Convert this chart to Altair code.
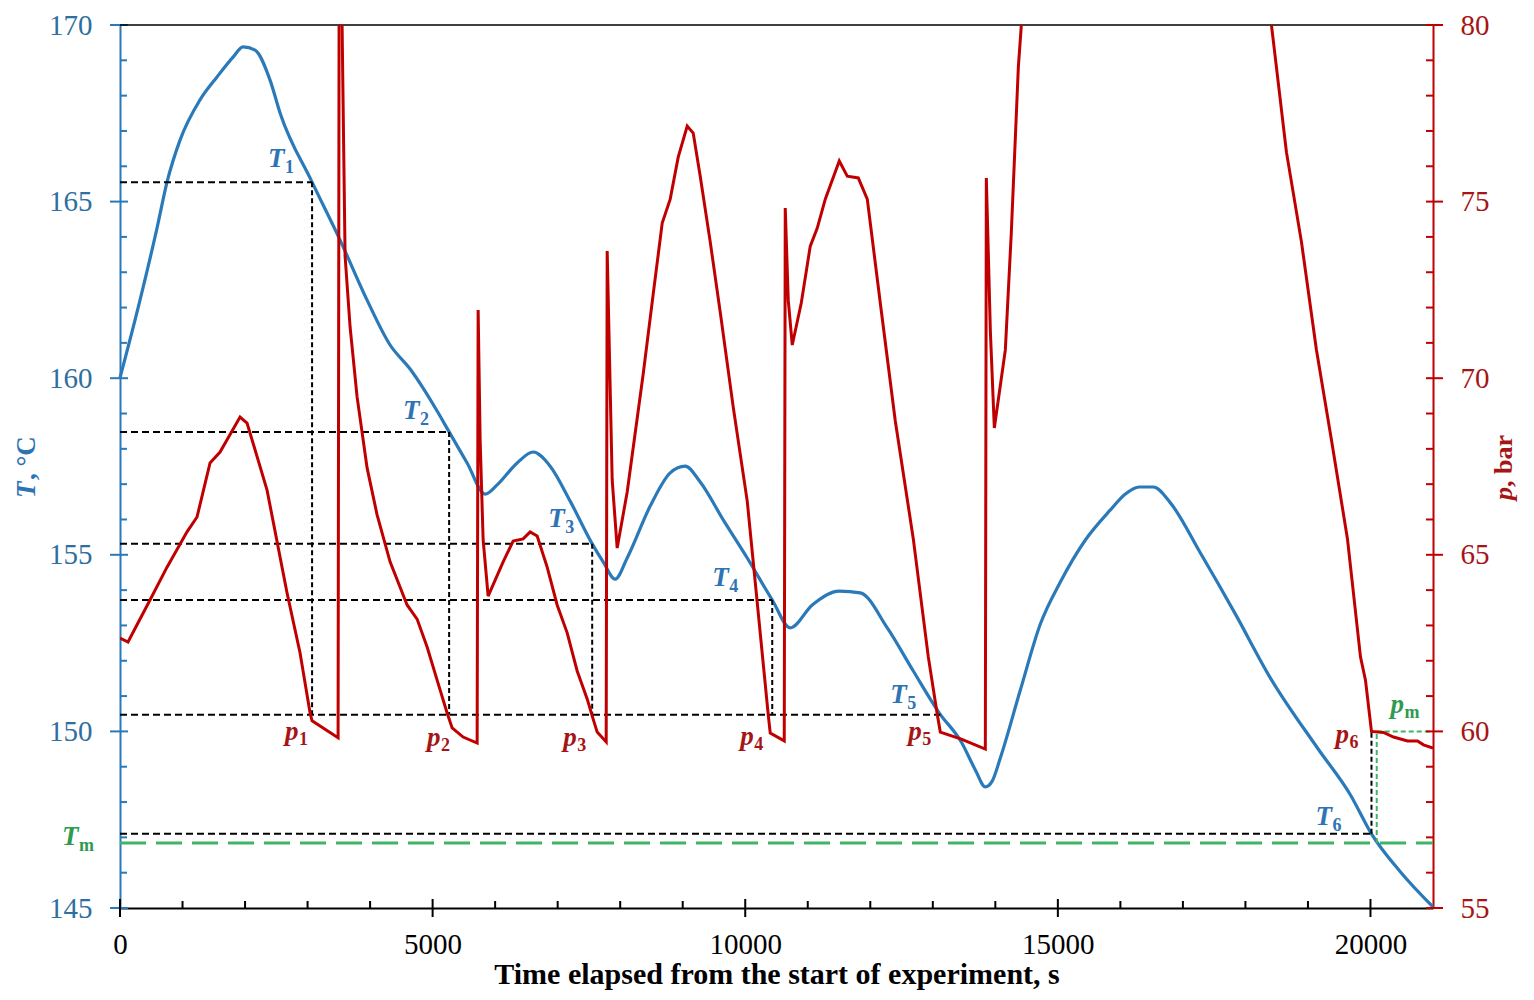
import altair as alt
import pandas as pd

# ---------------- data ----------------
# Temperature T, degC  (left axis)
temp_t = [0, 320, 592, 752, 960, 1280, 1552, 1808, 1968, 2160, 2400, 2560, 3072, 3520, 3952,
          4320, 4640, 4848, 5072, 5264, 5552, 5840, 6032, 6352, 6608, 6880, 7200, 7552, 7728,
          7920, 8112, 8480, 8800, 9040, 9280, 9648, 10032, 10432, 10720, 11072, 11504, 11840,
          12272, 12688, 13104, 13456, 13680, 13840, 13952, 14080, 14400, 14720, 15040, 15440,
          15840, 16080, 16300, 16528, 16800, 17280, 17840, 18400, 19152, 19680, 20016, 20480,
          21000]
temp_T = [160.01, 162.21, 164.25, 165.55, 166.74, 167.88, 168.53, 169.09, 169.38, 169.29,
          168.44, 167.51, 165.55, 163.91, 162.21, 160.94, 160.26, 159.72, 159.07, 158.48,
          157.60, 156.72, 156.98, 157.60, 157.91, 157.51, 156.52, 155.31, 154.80, 154.31,
          154.91, 156.38, 157.32, 157.51, 157.06, 155.99, 154.91, 153.72, 152.93, 153.58,
          153.97, 153.92, 152.93, 151.71, 150.52, 149.70, 148.91, 148.43, 148.60, 149.25,
          151.17, 153.04, 154.23, 155.42, 156.27, 156.72, 156.92, 156.92, 156.47, 155.05,
          153.32, 151.51, 149.53, 148.20, 147.10, 146.02, 145.03]

# Pressure p, bar (right axis); segments leave / re-enter the top of the plot
press_t = [0, 128, 480, 752, 1072, 1232, 1440, 1600, 1920, 2032, 2352, 2672, 2880, 3040, 3072,
           3488, 3504,
           3552, 3600, 3680, 3792, 3952, 4112, 4320, 4592, 4752, 4912, 5072, 5232, 5312, 5488,
           5712, 5728, 5760, 5808, 5888, 6128, 6288, 6448, 6560, 6672, 6832, 6992, 7152, 7312,
           7472, 7552, 7632, 7776, 7792, 7872, 7952, 8112, 8368, 8528, 8672, 8800, 8928, 9072,
           9168, 9280, 9440, 9600, 9808, 10032, 10144, 10368, 10400, 10624, 10640, 10688, 10752,
           10896, 11040, 11152, 11280, 11504, 11632, 11808, 11952, 12160, 12400, 12688, 12928,
           13072, 13120, 13456, 13840, 13856, 13920, 13984, 14160, 14256, 14368, 14416,
           18416, 18656, 18896, 19136, 19376, 19632, 19840, 19920, 20016, 20208, 20368, 20592,
           20752, 20848, 21000]
press_p = [62.64, 62.53, 63.72, 64.65, 65.65, 66.07, 67.60, 67.91, 68.90, 68.73, 66.83, 63.92,
           62.22, 60.52, 60.30, 59.82, 80.00,
           80.00, 73.46, 71.45, 69.47, 67.46, 66.13, 64.80, 63.58, 63.18, 62.39, 61.45, 60.52,
           60.10, 59.84, 59.67, 71.93, 68.25, 65.42, 63.83, 64.80, 65.39, 65.45, 65.65, 65.53,
           64.65, 63.58, 62.79, 61.71, 60.92, 60.44, 59.98, 59.70, 73.60, 67.12, 65.19, 66.78,
           70.12, 72.38, 74.39, 75.07, 76.26, 77.14, 76.94, 75.72, 73.86, 71.87, 69.18, 66.52,
           64.51, 60.47, 59.95, 59.73, 74.82, 72.21, 70.94, 72.13, 73.74, 74.25, 75.07, 76.15,
           75.72, 75.67, 75.07, 72.13, 68.79, 65.45, 62.11, 60.47, 59.98, 59.78, 59.50, 75.67,
           71.36, 68.59, 70.80, 74.14, 78.81, 80.00,
           80.00, 76.40, 73.86, 70.80, 68.25, 65.45, 62.11, 61.45, 60.00, 59.97, 59.84, 59.73,
           59.73, 59.62, 59.53]
press_seg = [0] * 17 + [1] * 78 + [2] * 15

# Reading lines
level_T = [165.55, 158.48, 155.31, 153.72]      # T1..T4
level_t = [3072, 5264, 7552, 10432]
p_level = 60.47                                  # p1..p5 level (also T5)
p_level_end = 13120
T6_val, T6_t = 147.10, 20016
p6_val = 60.00
Tm_val = 146.84
pm_val, pm_t = 60.00, 20100

# Labels (main letter position, value units)
T_lab_t = [2368, 4528, 6848, 9472, 12320, 19120, -928]
T_lab_v = [165.98, 158.85, 155.79, 154.12, 150.80, 147.35, 146.78]
T_lab_sub = ["1", "2", "3", "4", "5", "6", "m"]
p_lab_t = [2640, 4912, 7088, 9920, 12608, 19440, 20320]
p_lab_v = [59.76, 59.59, 59.59, 59.62, 59.76, 59.67, 60.52]
p_lab_sub = ["1", "2", "3", "4", "5", "6", "m"]

x_major = [0, 5000, 10000, 15000, 20000]
x_minor = [v for v in range(1000, 21000, 1000) if v % 5000 != 0]
T_major = [145, 150, 155, 160, 165, 170]
T_minor = [v for v in range(146, 170) if v % 5 != 0]
p_major = [55, 60, 65, 70, 75, 80]
p_minor = [v for v in range(56, 80) if v % 5 != 0]

# ---------------- style ----------------
SERIF = "Liberation Serif"
BLUE = "#2a79b9"
BLUE_TXT = "#2e6f9f"
BLUE_LAB = "#2e74b5"
RED = "#c00000"
RED_TXT = "#a51515"
GREEN = "#3fb464"
GREEN_TXT = "#2f9a50"
W, H = 1313, 883
OFF = 145 - 55  # left/right axis offset

XS = alt.Scale(domain=[0, 21000], nice=False, zero=False)
YT = alt.Scale(domain=[145, 170], nice=False, zero=False)
YP = alt.Scale(domain=[55, 80], nice=False, zero=False)

x_axis = alt.Axis(values=x_major, format="d", labelFont=SERIF, labelFontSize=29,
                  labelColor="black", labelPadding=22, ticks=False, tickSize=0,
                  domainColor="black", domainWidth=2, grid=False, labelFlush=False,
                  title="Time elapsed from the start of experiment, s", titleFont=SERIF,
                  titleFontSize=30, titleFontWeight="bold", titleColor="black", titlePadding=0)
left_axis = alt.Axis(orient="left", values=T_major, labelFont=SERIF, labelFontSize=29,
                     labelColor=BLUE_TXT, labelPadding=28, ticks=False, tickSize=0,
                     domainColor=BLUE, domainWidth=2, grid=False, title=None, labelFlush=False)
right_axis = alt.Axis(orient="right", values=p_major, labelFont=SERIF, labelFontSize=29,
                      labelColor=RED_TXT, labelPadding=27, ticks=False, tickSize=0,
                      domainColor=RED, domainWidth=2, grid=False, title=None, labelFlush=False)

# helper encodings: no axis spec here, so the explicit axes of the main lines win the merge
def X(f):
    return alt.X(f, scale=XS)

def YL(f):
    return alt.Y(f, scale=YT)

def YR(f):
    return alt.Y(f, scale=YP)

# ---------------- left (temperature) layer ----------------
dfT = pd.DataFrame({"t": temp_t, "T": temp_T})
blue = alt.Chart(dfT).mark_line(color=BLUE, strokeWidth=3.2, interpolate="monotone").encode(
    x=alt.X("t:Q", scale=XS, axis=x_axis), y=alt.Y("T:Q", scale=YT, axis=left_axis))

hd = pd.DataFrame({
    "x0": [0] * 6,
    "x1": level_t + [p_level_end, T6_t],
    "y": level_T + [p_level + OFF, T6_val],
})
hdash = alt.Chart(hd).mark_rule(color="black", strokeWidth=2, strokeDash=[7, 4]).encode(
    x=X("x0:Q"), x2="x1:Q", y=YL("y:Q"))
vd = pd.DataFrame({
    "x": level_t + [T6_t],
    "y0": level_T + [T6_val],
    "y1": [p_level + OFF] * 4 + [p6_val + OFF],
})
vdash = alt.Chart(vd).mark_rule(color="black", strokeWidth=2, strokeDash=[5, 3]).encode(
    x=X("x:Q"), y=YL("y0:Q"), y2="y1:Q")

gl = pd.DataFrame({"x0": [0], "x1": [21000], "y": [Tm_val]})
green_long = alt.Chart(gl).mark_rule(color=GREEN, strokeWidth=3, strokeDash=[26, 10]).encode(
    x=X("x0:Q"), x2="x1:Q", y=YL("y:Q"))
gs = pd.DataFrame({"x0": [pm_t, pm_t], "x1": [pm_t, 21000],
                   "y0": [Tm_val, pm_val + OFF], "y1": [pm_val + OFF, pm_val + OFF]})
green_short = alt.Chart(gs).mark_rule(color=GREEN, strokeWidth=2, strokeDash=[5, 3]).encode(
    x=X("x0:Q"), x2="x1:Q", y=YL("y0:Q"), y2="y1:Q")

lt_min = alt.Chart(pd.DataFrame({"v": T_minor})).mark_rule(color=BLUE, strokeWidth=2).encode(
    y=YL("v:Q"), x=alt.value(0), x2=alt.value(7))
lt_maj = alt.Chart(pd.DataFrame({"v": T_major})).mark_rule(color=BLUE, strokeWidth=2).encode(
    y=YL("v:Q"), x=alt.value(-10), x2=alt.value(8))
xt_min = alt.Chart(pd.DataFrame({"v": x_minor})).mark_rule(color="black", strokeWidth=2).encode(
    x=X("v:Q"), y=alt.value(H - 7), y2=alt.value(H))
xt_maj = alt.Chart(pd.DataFrame({"v": x_major})).mark_rule(color="black", strokeWidth=2).encode(
    x=X("v:Q"), y=alt.value(H - 9), y2=alt.value(H + 9))
top = alt.Chart(pd.DataFrame({"v": [170]})).mark_rule(color="black", strokeWidth=1.5).encode(
    y=YL("v:Q"), x=alt.value(0), x2=alt.value(W))

dTl = pd.DataFrame({"t": T_lab_t, "v": T_lab_v, "m": ["T"] * 7, "s": T_lab_sub,
                    "c": [BLUE_LAB] * 6 + [GREEN_TXT]})
T_main = alt.Chart(dTl).mark_text(align="left", baseline="alphabetic", font=SERIF, fontSize=27,
                                  fontStyle="italic", fontWeight="bold").encode(
    x=X("t:Q"), y=YL("v:Q"), text="m:N", color=alt.Color("c:N", scale=None))
T_sub = alt.Chart(dTl).mark_text(align="left", baseline="alphabetic", font=SERIF, fontSize=18,
                                 fontWeight="bold", dx=17, dy=6).encode(
    x=X("t:Q"), y=YL("v:Q"), text="s:N", color=alt.Color("c:N", scale=None))

lt1 = alt.Chart(pd.DataFrame({"s": ["T"]})).mark_text(
    align="left", baseline="middle", angle=270, font=SERIF, fontSize=27, fontStyle="italic",
    fontWeight="bold", color=BLUE_LAB).encode(text="s:N", x=alt.value(-93), y=alt.value(473))
lt2 = alt.Chart(pd.DataFrame({"s": [", \u00b0C"]})).mark_text(
    align="left", baseline="middle", angle=270, font=SERIF, fontSize=27,
    fontWeight="bold", color=BLUE_LAB).encode(text="s:N", x=alt.value(-93), y=alt.value(455))

left = alt.layer(blue, hdash, vdash, green_long, green_short, lt_min, lt_maj, xt_min, xt_maj,
                 top, T_main, T_sub, lt1, lt2)

# ---------------- right (pressure) layer ----------------
dfP = pd.DataFrame({"t": press_t, "p": press_p, "seg": press_seg})
red = alt.Chart(dfP).mark_line(color=RED, strokeWidth=3, clip=True).encode(
    x=X("t:Q"), y=alt.Y("p:Q", scale=YP, axis=right_axis), detail="seg:N")

rt_min = alt.Chart(pd.DataFrame({"v": p_minor})).mark_rule(color=RED, strokeWidth=2).encode(
    y=YR("v:Q"), x=alt.value(W - 7), x2=alt.value(W))
rt_maj = alt.Chart(pd.DataFrame({"v": p_major})).mark_rule(color=RED, strokeWidth=2).encode(
    y=YR("v:Q"), x=alt.value(W - 7), x2=alt.value(W + 10))

dPl = pd.DataFrame({"t": p_lab_t, "v": p_lab_v, "m": ["p"] * 7, "s": p_lab_sub,
                    "c": [RED_TXT] * 6 + [GREEN_TXT]})
p_main = alt.Chart(dPl).mark_text(align="left", baseline="alphabetic", font=SERIF, fontSize=27,
                                  fontStyle="italic", fontWeight="bold").encode(
    x=X("t:Q"), y=YR("v:Q"), text="m:N", color=alt.Color("c:N", scale=None))
p_sub = alt.Chart(dPl).mark_text(align="left", baseline="alphabetic", font=SERIF, fontSize=18,
                                 fontWeight="bold", dx=14, dy=5).encode(
    x=X("t:Q"), y=YR("v:Q"), text="s:N", color=alt.Color("c:N", scale=None))

rt1 = alt.Chart(pd.DataFrame({"s": ["p"]})).mark_text(
    align="left", baseline="middle", angle=270, font=SERIF, fontSize=26, fontStyle="italic",
    fontWeight="bold", color=RED_TXT).encode(text="s:N", x=alt.value(1384), y=alt.value(475))
rt2 = alt.Chart(pd.DataFrame({"s": [", bar"]})).mark_text(
    align="left", baseline="middle", angle=270, font=SERIF, fontSize=26,
    fontWeight="bold", color=RED_TXT).encode(text="s:N", x=alt.value(1384), y=alt.value(462))

right = alt.layer(red, rt_min, rt_maj, p_main, p_sub, rt1, rt2)

chart = alt.layer(left, right).resolve_scale(y="independent").properties(
    width=W, height=H, autosize="none",
    padding={"left": 112, "top": 17, "right": 88, "bottom": 83},
    background="white",
).configure_view(strokeWidth=0)

chart.save("out.html", embed_options={"renderer": "svg", "actions": False})
